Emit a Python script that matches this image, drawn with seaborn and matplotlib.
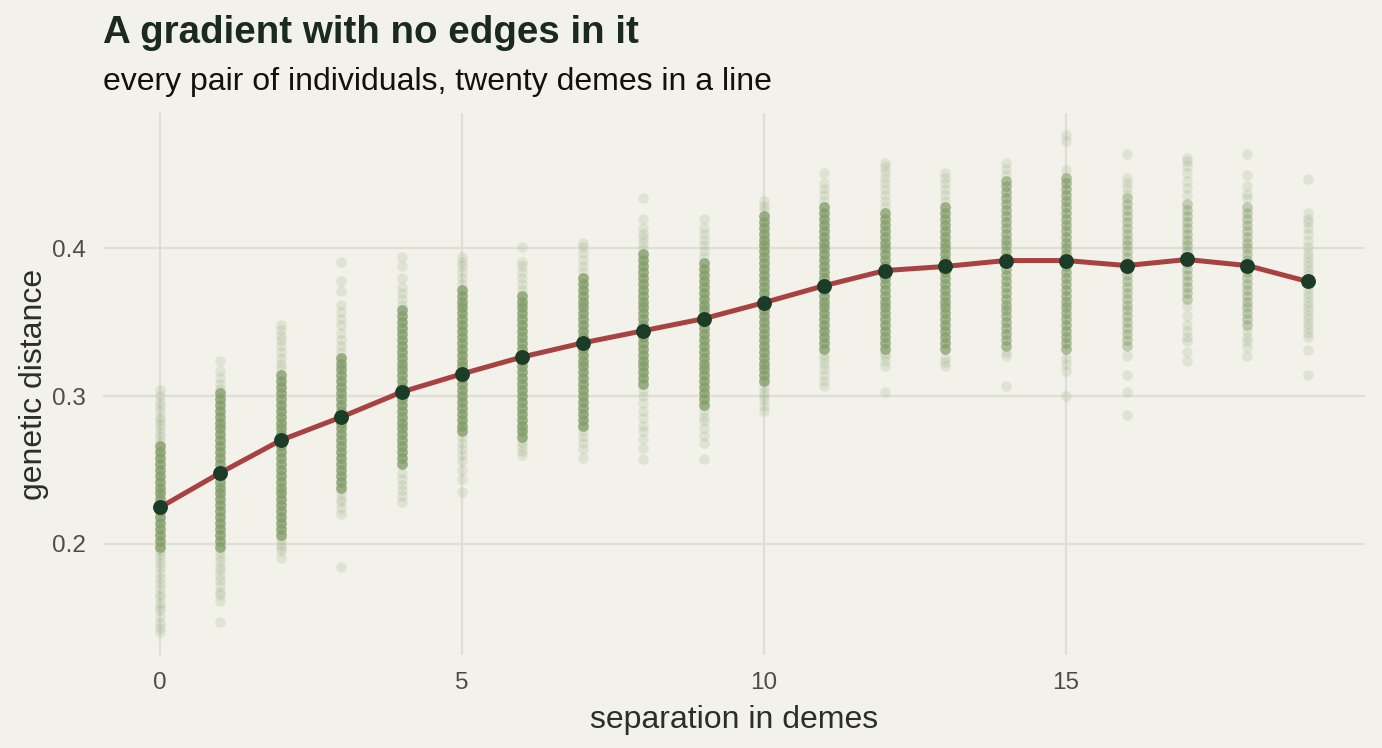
import numpy as np
import pandas as pd
import matplotlib.pyplot as plt
import seaborn as sns

# separation (demes) and mean genetic distance
separation = list(range(20))
mean_dist = [0.2245, 0.248, 0.270, 0.2857, 0.3027, 0.315, 0.3265, 0.336, 0.3442, 0.3524,
             0.3633, 0.3748, 0.385, 0.3878, 0.3918, 0.3918, 0.3884, 0.3925, 0.3884, 0.3776]

# pairwise distances per separation, in thousandths
# "core" = heavily overplotted band, "edge" = the scattered pairs above/below it
core_00 = [198, 202, 206, 210, 214, 218, 222, 226, 230, 234, 238, 242, 246, 250, 254, 258, 262, 266]
edge_00 = [140, 143, 146, 150, 155, 157, 160, 164, 166, 170, 173, 177, 180, 184, 187, 190, 193, 196,
           269, 272, 275, 278, 281, 284, 286, 290, 293, 296, 300, 304]
core_01 = [198, 202, 206, 210, 214, 218, 222, 226, 230, 234, 238, 242, 246, 250, 254, 258, 262, 266,
           270, 274, 278, 282, 286, 290, 294, 298, 302]
edge_01 = [147, 161, 165, 167, 171, 175, 178, 182, 184, 188, 191, 194, 305, 308, 312, 317, 324]
core_02 = [206, 210, 214, 218, 222, 226, 230, 234, 238, 242, 246, 250, 254, 258, 262, 266, 270, 274,
           278, 282, 286, 290, 294, 298, 302, 306, 310, 314]
edge_02 = [190, 195, 197, 200, 203, 319, 322, 326, 330, 334, 338, 341, 345, 348]
core_03 = [238, 242, 246, 250, 254, 258, 262, 266, 270, 274, 278, 282, 286, 290, 294, 298, 302, 306,
           310, 314, 318, 322, 326]
edge_03 = [184, 220, 224, 228, 230, 234, 330, 334, 338, 343, 348, 352, 357, 362, 371, 378, 391]
core_04 = [254, 258, 262, 266, 270, 274, 278, 282, 286, 290, 294, 298, 302, 306, 310, 314, 318, 322,
           326, 330, 334, 338, 342, 346, 350, 354, 358]
edge_04 = [228, 232, 236, 240, 244, 248, 362, 366, 370, 374, 380, 388, 394]
core_05 = [276, 280, 284, 288, 292, 296, 300, 304, 308, 312, 316, 320, 324, 328, 332, 336, 340, 344,
           348, 352, 356, 360, 364, 368, 372]
edge_05 = [235, 244, 250, 256, 260, 264, 268, 272, 376, 380, 384, 388, 391, 394]
core_06 = [272, 276, 280, 284, 288, 292, 296, 300, 304, 308, 312, 316, 320, 324, 328, 332, 336, 340,
           344, 348, 352, 356, 360, 364, 368]
edge_06 = [260, 263, 266, 269, 372, 376, 380, 384, 388, 391, 401]
core_07 = [280, 284, 288, 292, 296, 300, 304, 308, 312, 316, 320, 324, 328, 332, 336, 340, 344, 348,
           352, 356, 360, 364, 368, 372, 376, 380]
edge_07 = [258, 264, 268, 272, 276, 384, 388, 392, 397, 401, 404]
core_08 = [308, 312, 316, 320, 324, 328, 332, 336, 340, 344, 348, 352, 356, 360, 364, 368, 372, 376,
           380, 384, 388, 392, 396]
edge_08 = [257, 265, 271, 276, 280, 285, 290, 295, 300, 304, 400, 404, 407, 410, 414, 420, 434]
core_09 = [294, 298, 302, 306, 310, 314, 318, 322, 326, 330, 334, 338, 342, 346, 350, 354, 358, 362,
           366, 370, 374, 378, 382, 386, 390]
edge_09 = [257, 268, 273, 278, 283, 286, 290, 394, 398, 402, 406, 410, 414, 420]
core_10 = [310, 314, 318, 322, 326, 330, 334, 338, 342, 346, 350, 354, 358, 362, 366, 370, 374, 378,
           382, 386, 390, 394, 398, 402, 406, 410, 414, 418, 422]
edge_10 = [290, 293, 297, 300, 303, 306, 426, 429, 432]
core_11 = [332, 336, 340, 344, 348, 352, 356, 360, 364, 368, 372, 376, 380, 384, 388, 392, 396, 400,
           404, 408, 412, 416, 420, 424, 428]
edge_11 = [307, 310, 314, 318, 322, 325, 328, 432, 436, 440, 444, 451]
core_12 = [332, 336, 340, 344, 348, 352, 356, 360, 364, 368, 372, 376, 380, 384, 388, 392, 396, 400,
           404, 408, 412, 416, 420, 424]
edge_12 = [303, 320, 324, 327, 329, 428, 432, 436, 440, 444, 448, 452, 455, 458]
core_13 = [332, 336, 340, 344, 348, 352, 356, 360, 364, 368, 372, 376, 380, 384, 388, 392, 396, 400,
           404, 408, 412, 416, 420, 424, 428]
edge_13 = [320, 323, 326, 432, 436, 440, 444, 448, 451]
core_14 = [334, 338, 342, 346, 350, 354, 358, 362, 366, 370, 374, 378, 382, 386, 390, 394, 398, 402,
           406, 410, 414, 418, 422, 426, 430, 434, 438, 442, 446]
edge_14 = [307, 327, 330, 450, 454, 458]
core_15 = [332, 336, 340, 344, 348, 352, 356, 360, 364, 368, 372, 376, 380, 384, 388, 392, 396, 400,
           404, 408, 412, 416, 420, 424, 428, 432, 436, 440, 444, 448]
edge_15 = [300, 317, 322, 326, 453, 473, 477]
core_16 = [334, 338, 342, 346, 350, 354, 358, 362, 366, 370, 374, 378, 382, 386, 390, 394, 398, 402,
           406, 410, 414, 418, 422, 426, 430, 434]
edge_16 = [287, 303, 314, 327, 437, 441, 444, 448, 464]
core_17 = [366, 370, 374, 378, 382, 386, 390, 394, 398, 402, 406, 410, 414, 418, 422, 426, 430]
edge_17 = [324, 330, 337, 340, 344, 348, 354, 361, 436, 441, 446, 451, 456, 459, 461]
core_18 = [348, 352, 356, 360, 364, 368, 372, 376, 380, 384, 388, 392, 396, 400, 404, 408, 412, 416,
           420, 424, 428]
edge_18 = [327, 333, 337, 340, 344, 434, 437, 442, 450, 464]
core_19 = [340, 343, 346, 349, 352, 355, 358, 361, 364, 367, 370, 373, 376, 379, 382, 385, 388, 391,
           394, 397, 401, 405, 410, 414, 418]
edge_19 = [314, 331, 420, 424, 447]

# how many pairs pile up on each core value
core_weight = [8, 8, 8, 8, 8, 8, 8, 8, 8, 8, 8, 8, 7, 7, 5, 5, 3, 3, 3, 1]

cores = [core_00, core_01, core_02, core_03, core_04, core_05, core_06, core_07, core_08, core_09,
         core_10, core_11, core_12, core_13, core_14, core_15, core_16, core_17, core_18, core_19]
edges = [edge_00, edge_01, edge_02, edge_03, edge_04, edge_05, edge_06, edge_07, edge_08, edge_09,
         edge_10, edge_11, edge_12, edge_13, edge_14, edge_15, edge_16, edge_17, edge_18, edge_19]

rows = []
for d in separation:
    vals = cores[d] * core_weight[d] + edges[d]
    rows += [(d, v / 1000) for v in vals]
pairs = pd.DataFrame(rows, columns=['separation', 'distance'])
means = pd.DataFrame({'separation': separation, 'distance': mean_dist})

bg = '#f2f1ea'
sns.set_theme(style='white')
plt.rcParams['font.family'] = ['Liberation Sans', 'DejaVu Sans']

fig = plt.figure(figsize=(13.82, 7.48), dpi=100, facecolor=bg)
ax = fig.add_axes([0.0742, 0.1243, 0.9136, 0.7247])
ax.set_facecolor(bg)

sns.scatterplot(data=pairs, x='separation', y='distance', ax=ax, color='#84a06a',
                alpha=0.17, s=58, linewidth=0, zorder=2)
sns.lineplot(data=means, x='separation', y='distance', ax=ax, color='#a84242',
             linewidth=3.6, zorder=3)
sns.scatterplot(data=means, x='separation', y='distance', ax=ax, color='#1b3d27',
                s=115, linewidth=0, zorder=4)

ax.set_xlim(-0.95, 19.95)
ax.set_ylim(0.1245, 0.4918)
ax.set_xticks([0, 5, 10, 15])
ax.set_yticks([0.2, 0.3, 0.4])
ax.set_yticklabels(['0.2', '0.3', '0.4'])
ax.grid(True, color='#e0dfd5', linewidth=1.6, zorder=0)
ax.set_axisbelow(True)
for s in ax.spines.values():
    s.set_visible(False)
ax.tick_params(length=0, labelsize=17.5, colors='#4d4d4d', pad=12)

ax.set_xlabel('separation in demes', fontsize=23, color='#2a2f2a', labelpad=8)
ax.set_ylabel('genetic distance', fontsize=23, color='#2a2f2a', labelpad=2)

fig.text(0.0745, 0.9425, 'A gradient with no edges in it', fontsize=27.7, fontweight='bold',
         color='#1b2a21', va='baseline', ha='left')
fig.text(0.0745, 0.8797, 'every pair of individuals, twenty demes in a line', fontsize=23,
         color='#111111', va='baseline', ha='left')

fig.savefig('out.png', dpi=100, facecolor=bg)
